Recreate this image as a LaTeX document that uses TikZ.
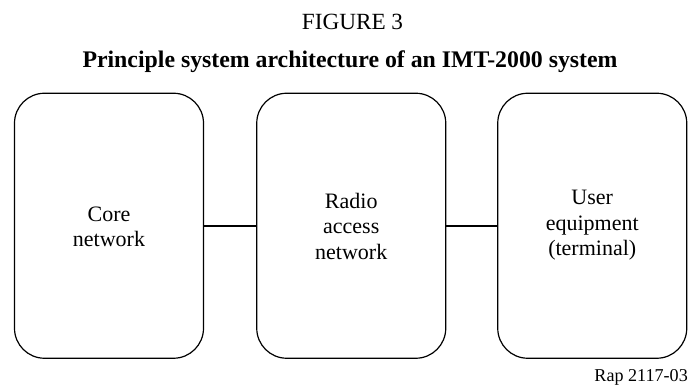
\documentclass[tikz,border=0pt]{standalone}
\usepackage{fontspec}
\setmainfont{Liberation Serif}
\begin{document}
\begin{tikzpicture}[x=1pt,y=-1pt,
  box/.style={draw, line width=1.2pt, rounded corners=30pt, minimum width=189pt, minimum height=265pt, inner sep=0pt},
  boxtext/.style={anchor=base, align=center, inner sep=0pt, font=\fontsize{22}{25.5}\selectfont},
  link/.style={line width=1.6pt}]
\useasboundingbox (0,0) rectangle (689,387);
\node[anchor=base, inner sep=0pt, font=\fontsize{23.2}{27}\selectfont] (fig) at (352.5,30) {FIGURE 3};
\node[anchor=base, inner sep=0pt, font=\fontsize{23.8}{28}\selectfont\bfseries] (title) at (350,68) {Principle system architecture of an IMT-2000 system};
\node[box] (core) at (109,225.75) {};
\node[box] (ran) at (351.25,225.75) {};
\node[box] (ue) at (592.25,225.75) {};
\node[boxtext] (coret) at (109,247) {Core\\network};
\node[boxtext] (rant) at (351.25,259.5) {Radio\\access\\network};
\node[boxtext] (uet) at (592.25,256) {User\\equipment\\(terminal)};
\draw[link] (core.east) -- (ran.west);
\draw[link] (ran.east) -- (ue.west);
\node[anchor=base east, inner sep=0pt, font=\fontsize{18.1}{21}\selectfont] (ref) at (688,382) {Rap 2117-03};
\end{tikzpicture}
\end{document}
